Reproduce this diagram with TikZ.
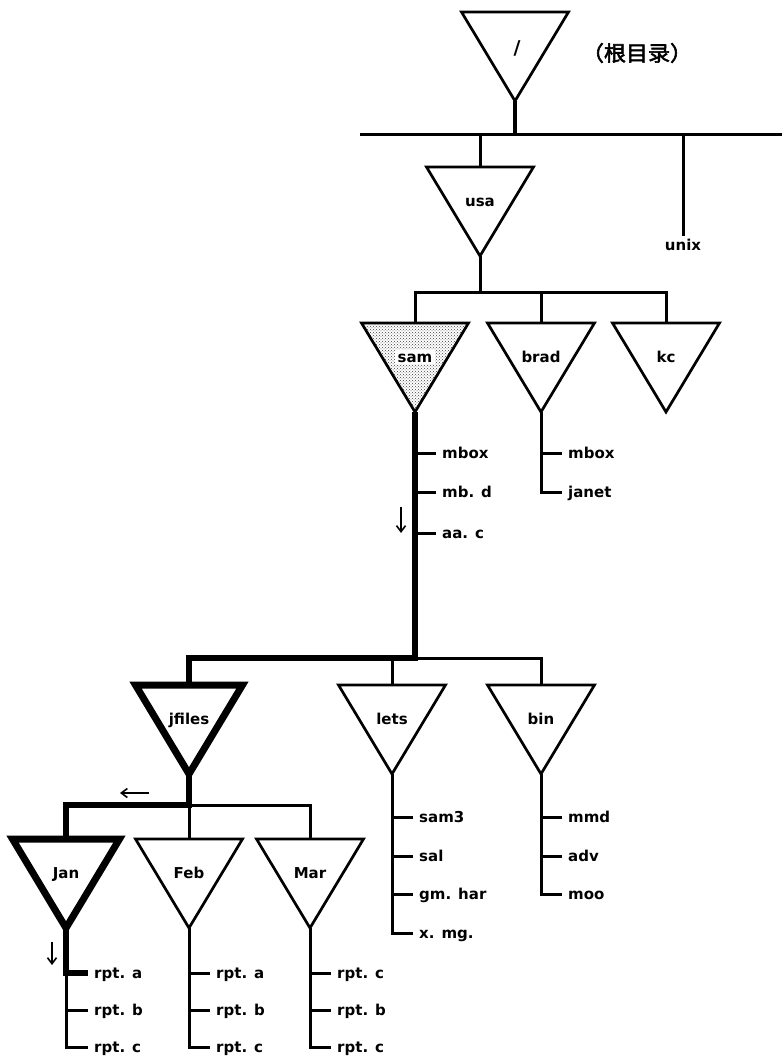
\documentclass[tikz,border=0pt]{standalone}
\usepackage{fontspec}
\setmainfont{DejaVu Sans}
\newfontfamily\cjk{Noto Sans CJK SC}[FakeBold=2.5]
\usetikzlibrary{arrows.meta,patterns}

% directory triangle: name, centre x, top y, label, extra style
\newcommand\dirtri[5]{%
  \coordinate (#1-t) at (#2,#3);
  \coordinate (#1-b) at (#2,#3+89);
  \draw[dirbox,#5] (#2-53.5,#3) -- (#2+53.5,#3) -- (#1-b) -- cycle;
  \node[dname] (#1) at (#2,#3+34) {#4};
}

\begin{document}
\begin{tikzpicture}[x=1pt,y=-1pt,
  dirbox/.style={line width=2.7pt,line join=miter},
  bolddir/.style={line width=7pt},
  link/.style={line width=3pt,line join=miter},
  mainpath/.style={line width=6.5pt,line join=miter},
  dname/.style={font=\bfseries\fontsize{15}{18}\selectfont,text height=10pt,text depth=0pt,inner sep=2pt},
  fname/.style={font=\bfseries\fontsize{15}{18}\selectfont,text height=10pt,text depth=0pt,
                inner ysep=0pt,inner xsep=6pt,anchor=west},
  arr/.style={line width=1.6pt,-{Straight Barb[length=6pt,width=9pt]}}]
\useasboundingbox (0,0) rectangle (782,1060);

% root and the top-level bus
\dirtri{root}{515}{12}{}{}
\node[font=\bfseries\fontsize{19}{20}\selectfont] (rootlabel) at (517,48) {/};
\node[font=\cjk\fontsize{21}{22}\selectfont,xscale=1.05] (rootnote) at (637,53) {（根目录）};
\coordinate (bus-l) at (360,134);
\coordinate (bus-r) at (782,134);
\draw[link] (bus-l) -- (bus-r);
\draw[link,line width=3.6pt] (root-b) -- (root-b |- bus-l);

% usa and unix
\dirtri{usa}{480}{167}{usa}{}
\draw[link] (usa-t) -- (usa-t |- bus-l);
\node[dname,inner sep=4pt] (unix) at (683,245) {unix};
\draw[link] (unix.north) -- (unix.north |- bus-l);

% users below usa
\dirtri{sam}{415}{323}{}{pattern=crosshatch dots,pattern color=black!75}
\node[dname,fill=white,inner xsep=3pt] (samlabel) at (415,357) {sam};
\dirtri{brad}{541}{323}{brad}{}
\dirtri{kc}{666}{323}{kc}{}
\coordinate (bar1) at (480,292);
\draw[link] (usa-b) -- (bar1);
\draw[link] (sam-t) |- (bar1) -| (kc-t);
\draw[link] (brad-t) -- (brad-t |- bar1);

% files of brad
\node[fname] (b1) at (562,453) {mbox};
\node[fname] (b2) at (562,492) {janet};
\draw[link] (brad-b) |- (b2.west);
\draw[link] (b1.west) -- (b1.west -| brad-b);

% subdirectories of sam (the path to follow is drawn heavy)
\dirtri{jfiles}{189}{685}{jfiles}{bolddir}
\dirtri{lets}{392}{685}{lets}{}
\dirtri{bin}{541}{685}{bin}{}
\coordinate (bar2) at (415,658);
\draw[link] (bar2) -| (bin-t);
\draw[link] (lets-t) -- (lets-t |- bar2);
\draw[mainpath] (sam-b) -- (bar2) -| (jfiles-t);

% files of sam
\node[fname] (s1) at (436,453) {mbox};
\node[fname] (s2) at (436,492) {mb. d};
\node[fname] (s3) at (436,533) {aa. c};
\draw[link] (s1.west) -- (s1.west -| sam-b);
\draw[link] (s2.west) -- (s2.west -| sam-b);
\draw[link] (s3.west) -- (s3.west -| sam-b);
\coordinate (a1s) at (401,507);
\coordinate (a1e) at (401,533);
\draw[arr] (a1s) -- (a1e);

% files of lets
\node[fname] (l1) at (413,817) {sam3};
\node[fname] (l2) at (413,856) {sal};
\node[fname] (l3) at (413,894) {gm. har};
\node[fname] (l4) at (413,933) {x. mg.};
\draw[link] (lets-b) |- (l4.west);
\draw[link] (l1.west) -- (l1.west -| lets-b);
\draw[link] (l2.west) -- (l2.west -| lets-b);
\draw[link] (l3.west) -- (l3.west -| lets-b);

% files of bin
\node[fname] (n1) at (562,817) {mmd};
\node[fname] (n2) at (562,856) {adv};
\node[fname] (n3) at (562,894) {moo};
\draw[link] (bin-b) |- (n3.west);
\draw[link] (n1.west) -- (n1.west -| bin-b);
\draw[link] (n2.west) -- (n2.west -| bin-b);

% months below jfiles
\dirtri{Jan}{66}{839}{Jan}{bolddir}
\dirtri{Feb}{189}{839}{Feb}{}
\dirtri{Mar}{310}{839}{Mar}{}
\coordinate (bar3) at (189,805);
\draw[link] (bar3) -| (Mar-t);
\draw[link] (Feb-t) -- (Feb-t |- bar3);
\draw[mainpath] (jfiles-b) -- (bar3) -| (Jan-t);
\coordinate (a2s) at (149,793);
\coordinate (a2e) at (120,793);
\draw[arr] (a2s) -- (a2e);

% files of Jan
\node[fname] (j1) at (88,973) {rpt. a};
\node[fname] (j2) at (88,1010) {rpt. b};
\node[fname] (j3) at (88,1047) {rpt. c};
\draw[link] (j1.west -| Jan-b) |- (j3.west);
\draw[link] (j2.west) -- (j2.west -| Jan-b);
\draw[mainpath] (Jan-b) |- (j1.west);
\coordinate (a3s) at (52,942);
\coordinate (a3e) at (52,965);
\draw[arr] (a3s) -- (a3e);

% files of Feb
\node[fname] (f1) at (210,973) {rpt. a};
\node[fname] (f2) at (210,1010) {rpt. b};
\node[fname] (f3) at (210,1047) {rpt. c};
\draw[link] (Feb-b) |- (f3.west);
\draw[link] (f1.west) -- (f1.west -| Feb-b);
\draw[link] (f2.west) -- (f2.west -| Feb-b);

% files of Mar
\node[fname] (m1) at (331,973) {rpt. c};
\node[fname] (m2) at (331,1010) {rpt. b};
\node[fname] (m3) at (331,1047) {rpt. c};
\draw[link] (Mar-b) |- (m3.west);
\draw[link] (m1.west) -- (m1.west -| Mar-b);
\draw[link] (m2.west) -- (m2.west -| Mar-b);
\end{tikzpicture}
\end{document}
